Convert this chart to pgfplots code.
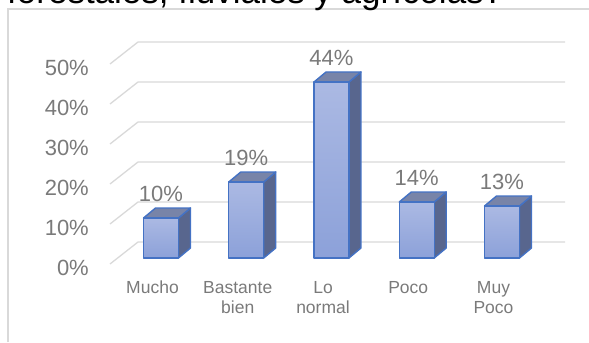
\documentclass[border=0pt]{standalone}
\usepackage{pgfplots}
\pgfplotsset{compat=1.18}
\usepackage{pgfplotstable}
\usepackage{fontspec}
\setmainfont{Liberation Sans}

\definecolor{gridc}{HTML}{D9D9D9}
\definecolor{labgray}{HTML}{7A7A7A}
\definecolor{edgeblue}{HTML}{4472C4}
\definecolor{fronttop}{HTML}{ABB9E3}
\definecolor{frontbot}{HTML}{8CA1D9}
\definecolor{topface}{HTML}{7884A8}
\definecolor{sideface}{HTML}{58668E}

% share of answers per category (percent)
\pgfplotstableread{
idx val
0 10
1 19
2 44
3 14
4 13
}\datatable

% geometry of the 3-D boxes (axis units)
\def\hw{0.205}
\def\dx{0.1408}
\def\dy{2.5}

\begin{document}
\begin{tikzpicture}
\begin{axis}[
  name=ax,
  scale only axis, width=589pt, height=342pt,
  xmin=-1.8886, xmax=5.0205, ymin=-21, ymax=64.5,
  clip=false,
  axis line style={draw=none},
  major tick length=0pt, tick style={draw=none},
  /pgf/number format/assume math mode=true,
  xtick={0,...,4},
  xticklabels={Mucho,Bastante\\bien,Lo\\normal,Poco,Muy\\Poco},
  xticklabel style={anchor=north, inner sep=0pt, yshift=60.9pt, xshift=-8.5pt,
    align=center, font=\fontsize{17.5}{20.5}\selectfont, text=labgray},
  ytick={-2.5,7.5,17.5,27.5,37.5,47.5},
  yticklabels={0\%,10\%,20\%,30\%,40\%,50\%},
  yticklabel style={anchor=east, inner sep=0pt, xshift=89pt,
    font=\fontsize{22}{26}\selectfont, text=labgray},
]
% chart frame
\draw[gridc, line width=1.4pt] (axis cs:-1.7947,-21) -- (axis cs:-1.7947,62.25) -- (axis cs:5.0205,62.25);
% title line running off the top
\node[anchor=base west, inner sep=0pt, font=\fontsize{35}{40}\selectfont, text=black]
  at (axis cs:-1.8065,63.55) {forestales, fluviales y agrícolas?};

% wall and floor gridlines
\addplot[gridc, line width=1.3pt, no marks] coordinates {(-0.5982,-1.5) (-0.2698,4) (4.7390,4)};
\addplot[gridc, line width=1.3pt, no marks] coordinates {(-0.5982,8.5) (-0.2698,14) (4.7390,14)};
\addplot[gridc, line width=1.3pt, no marks] coordinates {(-0.5982,18.5) (-0.2698,24) (4.7390,24)};
\addplot[gridc, line width=1.3pt, no marks] coordinates {(-0.5982,28.5) (-0.2698,34) (4.7390,34)};
\addplot[gridc, line width=1.3pt, no marks] coordinates {(-0.5982,38.5) (-0.2698,44) (4.7390,44)};
\addplot[gridc, line width=1.3pt, no marks] coordinates {(-0.5982,48.5) (-0.2698,54) (4.7390,54)};

% 3-D boxes built from the table values
\pgfplotsinvokeforeach{0,...,4}{
  \pgfplotstablegetelem{#1}{val}\of\datatable
  \pgfmathsetmacro\bv{\pgfplotsretval}
  \pgfmathsetmacro\xl{#1-\hw}
  \pgfmathsetmacro\xr{#1+\hw}
  \pgfmathsetmacro\xlb{#1-\hw+\dx}
  \pgfmathsetmacro\xrb{#1+\hw+\dx}
  \pgfmathsetmacro\bvb{\bv+\dy}
  \addplot[fill=sideface, draw=edgeblue, line width=1.4pt, line join=round, no marks]
    coordinates {(\xr,0) (\xrb,\dy) (\xrb,\bvb) (\xr,\bv)} -- cycle;
  \addplot[fill=topface, draw=edgeblue, line width=1.4pt, line join=round, no marks]
    coordinates {(\xl,\bv) (\xr,\bv) (\xrb,\bvb) (\xlb,\bvb)} -- cycle;
  \addplot[top color=fronttop, bottom color=frontbot, draw=edgeblue, line width=1.4pt, line join=round, no marks]
    coordinates {(\xl,0) (\xr,0) (\xr,\bv) (\xl,\bv)} -- cycle;
}

% value labels
\addplot[draw=none, no marks,
  point meta=y,
  nodes near coords={\pgfmathprintnumber{\pgfplotspointmeta}\%},
  every node near coord/.style={anchor=base, inner sep=0pt, yshift=16.5pt,
    font=\fontsize{22}{26}\selectfont, text=labgray}]
  table[x=idx, y=val] {\datatable};
\end{axis}
\pgfresetboundingbox
\path[use as bounding box] (ax.south west) rectangle (ax.north east);
\end{tikzpicture}
\end{document}
